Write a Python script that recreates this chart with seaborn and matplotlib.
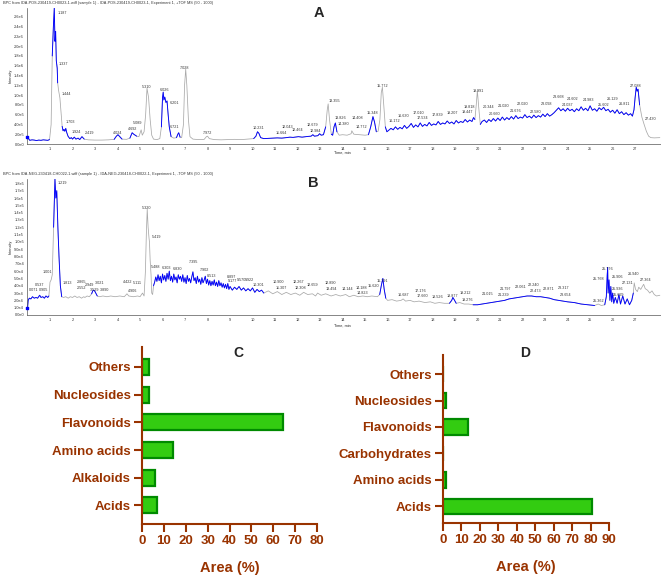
import pandas as pd
import matplotlib
matplotlib.use("Agg")
import matplotlib.pyplot as plt
import seaborn as sns

sns.set_style("white")
plt.rcParams["font.family"] = ["Liberation Sans", "DejaVu Sans"]

# ---------------- chromatogram A (+TOF MS), intensity in units of 1e5
a_title = ("BPC from IDA-POS-230419-CH0023-1.wiff (sample 1) - IDA-POS-230419-CH0023-1, "
           "Experiment 1, +TOF MS (50 - 1000)")
a_time = [0.00, 0.10, 0.20, 0.30, 0.40, 0.50, 0.60, 0.70, 0.80, 0.90, 0.98, 1.05, 1.10, 1.15, 1.19,
          1.22, 1.25, 1.28, 1.32, 1.34, 1.38, 1.44, 1.50, 1.54, 1.58, 1.62, 1.66, 1.70, 1.74, 1.80,
          1.88, 1.95, 2.00, 2.08, 2.15, 2.25, 2.32, 2.42, 2.52, 2.70, 3.00, 3.30, 3.60, 3.85, 3.95,
          4.02, 4.10, 4.20, 4.40, 4.55, 4.65, 4.72, 4.85, 4.95, 5.05, 5.10, 5.18, 5.25, 5.31, 5.38,
          5.45, 5.52, 5.60, 5.75, 5.88, 5.95, 6.00, 6.03, 6.06, 6.10, 6.15, 6.20, 6.25, 6.30, 6.38,
          6.50, 6.62, 6.68, 6.72, 6.78, 6.85, 6.93, 6.98, 7.03, 7.08, 7.15, 7.22, 7.35, 7.60, 7.85,
          7.95, 8.00, 8.08, 8.30, 8.60, 8.90, 9.20, 9.50, 9.80, 10.05, 10.15, 10.22, 10.28, 10.36,
          10.50, 10.70, 10.90, 11.10, 11.30, 11.50, 11.66, 11.80, 12.04, 12.20, 12.46, 12.60, 12.68,
          12.75, 12.90, 12.98, 13.05, 13.15, 13.25, 13.32, 13.36, 13.42, 13.50, 13.56, 13.62, 13.68,
          13.75, 13.85, 14.00, 14.20, 14.38, 14.41, 14.50, 14.77, 15.00, 15.15, 15.25, 15.35, 15.42,
          15.50, 15.58, 15.66, 15.72, 15.77, 15.83, 15.90, 15.97, 16.05, 16.15, 16.25, 16.35, 16.45,
          16.55, 16.65, 16.75, 16.85, 16.95, 17.05, 17.15, 17.25, 17.35, 17.45, 17.55, 17.65, 17.75,
          17.85, 17.95, 18.05, 18.15, 18.25, 18.35, 18.45, 18.55, 18.65, 18.75, 18.85, 18.95, 19.05,
          19.15, 19.25, 19.35, 19.45, 19.55, 19.65, 19.75, 19.82, 19.88, 19.94, 19.99, 20.05, 20.12,
          20.20, 20.30, 20.40, 20.50, 20.60, 20.70, 20.80, 20.90, 21.00, 21.10, 21.20, 21.30, 21.40,
          21.50, 21.60, 21.70, 21.80, 21.90, 22.00, 22.10, 22.20, 22.30, 22.40, 22.50, 22.60, 22.70,
          22.80, 22.90, 23.00, 23.10, 23.20, 23.30, 23.40, 23.50, 23.60, 23.70, 23.80, 23.90, 24.00,
          24.10, 24.20, 24.30, 24.40, 24.50, 24.60, 24.70, 24.80, 24.90, 25.00, 25.10, 25.20, 25.30,
          25.40, 25.50, 25.60, 25.70, 25.80, 25.90, 26.00, 26.10, 26.20, 26.30, 26.40, 26.50, 26.60,
          26.70, 26.80, 26.88, 26.95, 27.00, 27.05, 27.09, 27.13, 27.20, 27.30, 27.40, 27.50, 27.60,
          27.70, 27.85, 28.10]
a_int = [1.4, 0.75, 0.85, 0.8, 0.7, 0.8, 0.75, 0.85, 0.8, 0.75, 0.9, 4.0, 18.0, 24.0, 27.8,
         21.0, 23.0, 17.0, 15.5, 12.5, 11.0, 9.4, 6.0, 3.6, 2.7, 3.0, 2.6, 3.2, 2.4, 1.6,
         1.1, 1.3, 1.0, 1.4, 1.0, 1.2, 0.9, 1.5, 1.0, 0.85, 0.8, 0.8, 0.85, 0.95, 1.6,
         1.9, 1.5, 1.0, 0.95, 1.2, 2.3, 2.0, 1.6, 1.5, 2.9, 1.8, 2.5, 6.0, 11.4, 9.5,
         5.0, 1.8, 1.0, 0.9, 1.1, 3.5, 9.5, 10.6, 9.0, 9.6, 8.5, 8.8, 6.0, 3.5, 1.5,
         1.2, 1.3, 2.0, 2.3, 1.4, 1.3, 4.0, 12.0, 15.3, 12.0, 5.0, 1.5, 1.0, 0.9, 0.95,
         1.5, 1.6, 1.1, 0.9, 0.85, 0.9, 0.95, 0.9, 1.0, 1.1, 1.6, 2.5, 2.2, 1.3,
         1.1, 1.15, 1.2, 1.25, 1.2, 1.3, 1.4, 1.35, 1.5, 1.4, 1.55, 1.6, 1.9,
         1.6, 1.7, 2.1, 1.8, 1.9, 3.5, 7.0, 8.2, 5.0, 2.0, 1.8, 3.5, 4.3,
         2.5, 1.8, 1.9, 1.8, 2.1, 2.7, 2.0, 1.9, 1.8, 1.9, 3.5, 5.6, 4.5,
         2.5, 2.6, 5.0, 10.5, 11.6, 8.0, 3.5, 2.5, 2.8, 3.2, 2.9, 3.5, 3.0,
         3.4, 3.1, 3.8, 3.2, 3.6, 4.2, 3.4, 3.9, 3.5, 4.3, 3.6, 4.0, 3.7,
         4.4, 3.8, 4.1, 3.9, 4.6, 4.0, 4.3, 4.1, 4.7, 4.2, 4.5, 4.1, 4.8,
         4.3, 4.6, 4.4, 5.0, 4.5, 4.9, 4.6, 5.4, 5.0, 8.0, 10.9, 7.5, 4.0,
         4.6, 4.9, 4.4, 5.0, 4.6, 5.2, 4.7, 5.3, 4.8, 5.5, 4.9, 5.4, 5.0,
         5.6, 5.1, 5.8, 5.2, 5.5, 5.3, 6.0, 5.4, 5.7, 5.3, 5.9, 5.4, 5.8,
         5.5, 6.1, 5.6, 6.2, 5.7, 6.0, 6.4, 6.9, 7.4, 6.8, 7.2, 6.7, 7.3,
         6.8, 7.1, 6.6, 7.2, 6.8, 7.6, 6.9, 7.3, 6.8, 7.8, 6.9, 7.2, 6.7,
         7.4, 7.0, 7.5, 6.8, 7.1, 6.5, 6.9, 6.3, 7.0, 6.2, 6.6, 6.0, 6.4,
         5.9, 6.2, 5.7, 7.0, 9.5, 11.6, 10.8, 11.2, 8.0, 5.5, 4.0, 2.6, 1.6,
         1.3, 1.25, 1.3]
a_blue = [(0.0, 0.98), (1.10, 1.34), (1.54, 2.52), (3.85, 4.20), (4.55, 4.85), (5.95, 6.38),
          (6.62, 6.78), (10.05, 13.25), (13.50, 13.75), (15.15, 15.50), (15.90, 19.88),
          (20.12, 27.25)]
a_lab_txt = ["1.187", "1.337", "1.444", "1.703", "1.924", "2.419", "4.024", "4.692", "5.089",
             "5.310", "6.026", "6.201", "6.721", "7.028", "7.972", "10.231", "11.664", "12.043",
             "12.464", "12.679", "12.984", "13.355", "13.826", "14.380", "14.408", "14.772",
             "15.348", "15.772", "16.172", "16.630", "17.010", "17.534", "17.839", "19.207",
             "19.447", "19.818", "19.991", "20.344", "20.660", "21.020", "21.676", "22.020",
             "22.580", "23.098", "23.668", "24.037", "24.602", "24.983", "25.602", "26.129",
             "26.811", "27.088", "27.430"]
a_lab_t = [1.36, 1.40, 1.53, 1.71, 1.98, 2.56, 3.80, 4.47, 4.69, 5.09, 5.89, 6.33, 6.33, 6.78,
           7.80, 10.02, 11.04, 11.31, 11.76, 12.42, 12.56, 13.36, 13.67, 13.80, 14.42, 14.56,
           15.09, 15.53, 16.07, 16.47, 17.13, 17.31, 17.98, 18.64, 19.27, 19.36, 19.76, 20.24,
           20.51, 20.91, 21.44, 21.76, 22.33, 22.82, 23.36, 23.76, 23.98, 24.69, 25.36, 25.76,
           26.29, 26.78, 27.44]
a_lab_y = [26.7, 16.3, 10.2, 4.5, 2.4, 2.2, 2.2, 3.1, 4.3, 11.6, 11.0, 8.4, 3.5, 15.5, 2.2,
           3.3, 2.2, 3.5, 2.9, 3.9, 2.7, 8.8, 5.3, 4.1, 5.3, 3.5, 6.3, 11.8, 4.7, 5.7, 6.3,
           5.3, 5.9, 6.3, 6.5, 7.6, 10.8, 7.6, 6.1, 7.8, 6.7, 8.2, 6.5, 8.2, 9.6, 8.0, 9.2,
           9.0, 8.0, 9.2, 8.2, 11.8, 5.1]
a_ytick_labels = ["0.0e0", "2.0e5", "4.0e5", "6.0e5", "8.0e5", "1.0e6", "1.2e6", "1.4e6",
                  "1.6e6", "1.8e6", "2.0e6", "2.2e6", "2.4e6", "2.6e6"]

# ---------------- chromatogram B (-TOF MS), intensity in units of 1e4
b_title = ("BPC from IDA-NEG-230418-CH0022-1.wiff (sample 1) - IDA-NEG-230418-CH0022-1, "
           "Experiment 1, -TOF MS (50 - 1000)")
b_time = [0.00, 0.03, 0.08, 0.15, 0.22, 0.30, 0.38, 0.45, 0.54, 0.60, 0.68, 0.75, 0.82, 0.90,
          0.95, 1.00, 1.05, 1.10, 1.16, 1.22, 1.26, 1.30, 1.35, 1.40, 1.46, 1.52, 1.60, 1.70,
          1.81, 1.90, 2.00, 2.10, 2.20, 2.30, 2.40, 2.50, 2.55, 2.65, 2.75, 2.85, 2.90, 2.95,
          3.00, 3.05, 3.10, 3.20, 3.35, 3.53, 3.70, 3.89, 4.10, 4.30, 4.42, 4.50, 4.70, 4.90,
          5.00, 5.11, 5.18, 5.24, 5.28, 5.32, 5.36, 5.40, 5.42, 5.45, 5.49, 5.52, 5.56, 5.60,
          5.65, 5.70, 5.75, 5.80, 5.85, 5.90, 5.95, 6.00, 6.05, 6.10, 6.15, 6.20, 6.25, 6.30,
          6.35, 6.40, 6.45, 6.50, 6.55, 6.60, 6.65, 6.70, 6.75, 6.80, 6.85, 6.90, 6.95, 7.00,
          7.05, 7.10, 7.15, 7.20, 7.25, 7.30, 7.35, 7.40, 7.45, 7.50, 7.55, 7.60, 7.65, 7.70,
          7.75, 7.80, 7.85, 7.90, 7.95, 8.00, 8.05, 8.10, 8.15, 8.20, 8.25, 8.30, 8.35, 8.40,
          8.45, 8.50, 8.55, 8.60, 8.65, 8.70, 8.75, 8.80, 8.85, 8.90, 8.95, 9.00, 9.10, 9.20,
          9.30, 9.40, 9.50, 9.60, 9.70, 9.80, 9.90, 10.00, 10.10, 10.20, 10.30, 10.40, 10.50,
          10.70, 10.90, 11.10, 11.30, 11.50, 11.70, 11.90, 12.10, 12.27, 12.45, 12.66, 12.80,
          12.89, 13.05, 13.25, 13.49, 13.70, 13.90, 14.14, 14.30, 14.50, 14.70, 14.90, 15.10,
          15.30, 15.55, 15.65, 15.72, 15.79, 15.85, 15.92, 16.00, 16.20, 16.40, 16.60, 16.69,
          16.80, 17.00, 17.18, 17.40, 17.66, 17.90, 18.10, 18.30, 18.53, 18.75, 18.85, 18.90,
          18.96, 19.05, 19.21, 19.40, 19.60, 19.80, 20.00, 20.20, 20.40, 20.60, 20.80, 21.00,
          21.20, 21.40, 21.60, 21.80, 22.00, 22.20, 22.40, 22.60, 22.80, 23.00, 23.20, 23.40,
          23.60, 23.80, 24.00, 24.30, 24.60, 24.90, 25.20, 25.36, 25.50, 25.65, 25.72, 25.76,
          25.78, 25.80, 25.84, 25.88, 25.92, 25.96, 26.00, 26.05, 26.12, 26.20, 26.28, 26.35,
          26.45, 26.55, 26.65, 26.75, 26.85, 26.92, 26.96, 27.02, 27.10, 27.16, 27.25, 27.32,
          27.38, 27.45, 27.55, 27.65, 27.75, 27.85, 27.95, 28.10]
b_int = [0.9, 2.0, 2.3, 2.2, 2.5, 2.3, 2.4, 2.3, 2.7, 2.4, 2.5, 2.3, 2.6, 2.4,
         2.6, 4.5, 4.8, 5.5, 12.0, 18.6, 16.0, 17.0, 12.0, 8.0, 4.0, 2.5, 2.4, 2.5,
         2.3, 2.5, 2.4, 2.6, 2.4, 2.5, 2.3, 2.5, 2.4, 2.6, 2.5, 2.9, 3.3, 3.4,
         3.2, 2.9, 2.6, 2.5, 2.6, 2.5, 2.6, 2.5, 2.6, 2.5, 2.9, 2.6, 2.5, 2.6,
         2.5, 3.0, 2.6, 6.0, 11.0, 14.5, 12.0, 10.5, 10.0, 7.5, 5.5, 3.0, 2.8, 4.0,
         4.5, 5.2, 4.6, 5.5, 4.7, 5.3, 4.4, 5.6, 4.8, 5.4, 4.6, 5.7, 4.9, 6.0,
         4.7, 5.3, 4.5, 5.6, 4.8, 5.2, 4.4, 5.5, 4.9, 5.3, 4.6, 5.5, 4.5, 5.1,
         4.3, 5.4, 4.6, 5.0, 4.4, 5.2, 5.9, 4.7, 5.1, 4.3, 5.3, 4.5, 4.9, 4.2,
         5.1, 4.4, 4.8, 5.3, 4.3, 4.9, 4.1, 4.7, 4.0, 4.6, 4.1, 4.8, 4.0, 4.5,
         3.9, 4.7, 4.0, 4.4, 3.8, 4.3, 3.7, 4.2, 3.6, 4.3, 3.5, 3.9, 3.4, 3.8,
         3.5, 3.9, 3.4, 3.7, 3.3, 3.6, 3.3, 3.7, 3.1, 3.5, 3.2, 3.4, 3.0,
         3.3, 2.9, 3.2, 2.8, 3.1, 2.8, 3.0, 2.7, 3.1, 2.8, 2.9, 2.6,
         3.0, 2.7, 2.9, 2.6, 2.8, 2.6, 2.8, 2.5, 2.7, 2.5, 2.6, 2.5,
         2.6, 2.5, 2.8, 4.0, 5.0, 3.5, 2.3, 2.0, 2.1, 1.9, 2.0, 2.2,
         1.9, 2.0, 1.8, 1.9, 1.7, 1.8, 1.6, 1.7, 1.6, 1.6, 2.0, 2.4,
         2.1, 1.6, 1.7, 1.5, 1.5, 1.4, 1.4, 1.5, 1.6, 1.7, 1.8, 1.9,
         2.0, 2.2, 2.3, 2.4, 2.5, 2.6, 2.6, 2.5, 2.5, 2.4, 2.3, 2.1,
         2.0, 1.9, 1.8, 1.7, 1.5, 1.4, 1.3, 1.5, 1.3, 1.4, 2.5, 5.5,
         6.5, 3.0, 4.8, 2.0, 3.9, 1.8, 3.0, 1.6, 2.4, 1.6, 2.8, 1.5,
         2.6, 1.5, 2.2, 1.4, 2.0, 3.0, 4.4, 3.5, 3.2, 3.8, 3.5, 3.9,
         4.2, 3.6, 3.4, 3.0, 3.3, 2.8, 2.6, 2.7]
b_blue = [(0.0, 0.95), (1.16, 1.52), (2.85, 3.10), (5.60, 10.50), (15.65, 15.92),
          (18.75, 19.05), (19.80, 25.20), (25.65, 26.92)]
b_lab_txt = ["1.219", "1.001", "0.537", "0.071", "0.905", "1.813", "2.865", "2.552", "2.949",
             "3.021", "3.529", "3.890", "4.422", "4.906", "5.111", "5.320", "5.419", "5.488",
             "6.303", "6.830", "7.395", "7.902", "8.513", "8.897", "9.177", "9.570", "9.922",
             "10.301", "10.900", "11.307", "12.267", "12.308", "12.659", "12.890", "13.494",
             "14.144", "14.188", "14.823", "15.620", "15.791", "16.687", "17.176", "17.660",
             "18.526", "18.877", "19.212", "19.276", "21.015", "21.239", "21.797", "22.061",
             "22.240", "22.473", "22.871", "23.317", "23.654", "25.362", "25.768", "25.776",
             "25.906", "25.936", "25.699", "26.940", "27.131", "27.364"]
b_lab_t = [1.36, 0.69, 0.33, 0.07, 0.51, 1.58, 2.20, 2.20, 2.56, 3.00, 2.78, 3.22, 4.24, 4.47,
           4.69, 5.09, 5.53, 5.48, 5.95, 6.45, 7.18, 7.67, 7.98, 8.87, 8.91, 9.31, 9.67, 10.02,
           10.91, 11.04, 11.80, 11.89, 12.42, 13.22, 13.27, 13.98, 14.56, 14.64, 15.13, 15.53,
           16.47, 17.22, 17.31, 17.98, 18.64, 19.22, 19.31, 20.20, 20.91, 21.00, 21.67, 22.24,
           22.33, 22.91, 23.58, 23.67, 25.13, 25.13, 25.53, 25.98, 25.98, 26.02, 26.69, 26.42,
           27.22]
b_lab_y = [18.1, 5.9, 4.1, 3.4, 3.4, 4.4, 4.5, 3.7, 4.1, 4.4, 3.4, 3.4, 4.5, 3.3, 4.4, 14.6,
           10.6, 6.5, 6.4, 6.3, 7.2, 6.1, 5.3, 5.2, 4.6, 4.8, 4.8, 4.1, 4.5, 3.7, 4.5, 3.7, 4.1,
           4.4, 3.5, 3.5, 3.7, 3.0, 3.9, 4.6, 2.7, 3.3, 2.6, 2.4, 2.6, 3.0, 2.0, 2.9, 2.7, 3.5,
           3.8, 4.1, 3.3, 3.5, 3.7, 2.7, 1.9, 4.9, 6.3, 5.2, 3.5, 2.7, 5.6, 4.4, 4.8]
b_ytick_labels = ["0.0e0", "1.0e4", "2.0e4", "3.0e4", "4.0e4", "5.0e4", "6.0e4", "7.0e4",
                  "8.0e4", "9.0e4", "1.0e5", "1.1e5", "1.2e5", "1.3e5", "1.4e5", "1.5e5",
                  "1.6e5", "1.7e5", "1.8e5"]

# ---------------- bar charts (area %)
c_classes = ["Others", "Nucleosides", "Flavonoids", "Amino acids", "Alkaloids", "Acids"]
c_area = [3.2, 3.2, 64.6, 14.2, 5.8, 6.9]
d_classes = ["Others", "Nucleosides", "Flavonoids", "Carbohydrates", "Amino acids", "Acids"]
d_area = [0.0, 1.8, 13.7, 0.0, 1.6, 80.8]

BLUE = "#0000ff"
GREY = "#a8a8a8"
BROWN = "#993300"
FILL = "#33cc11"
EDGE = "#008a00"

W, H = 661, 578
fig = plt.figure(figsize=(W / 100, H / 100), dpi=100)


def rect(x0, y0, x1, y1):
    # pixel box (top-left origin) -> figure fraction
    return [x0 / W, 1 - y1 / H, (x1 - x0) / W, (y1 - y0) / H]


def chromatogram(ax, t, y, blue, ymax, ytl, labs, lab_t, lab_y):
    df = pd.DataFrame({"t": t, "y": y})
    sns.lineplot(data=df, x="t", y="y", ax=ax, color=GREY, lw=0.55,
                 estimator=None, sort=False)
    for t0, t1 in blue:
        seg = df[(df.t >= t0) & (df.t <= t1)]
        sns.lineplot(data=seg, x="t", y="y", ax=ax, color=BLUE, lw=0.65,
                     estimator=None, sort=False)
    ax.scatter(df.t.iloc[:1], df.y.iloc[:1], s=4, marker="s", color=BLUE,
               zorder=5, clip_on=False)
    for s, lt, ly in zip(labs, lab_t, lab_y):
        ax.text(lt, ly, s, fontsize=2.7, ha="left", va="center", color="#333333")
    ax.set_xlim(0, 28.15)
    ax.set_ylim(0, ymax)
    ax.set_xticks(range(1, 28))
    ax.set_xticklabels([str(i) for i in range(1, 28)])
    step = 2 if len(ytl) == 14 else 1
    ax.set_yticks([i * step for i in range(len(ytl))])
    ax.set_yticklabels(ytl)
    ax.tick_params(labelsize=2.8, length=1.5, width=0.4, pad=1, colors="#333333")
    for side in ["top", "right"]:
        ax.spines[side].set_visible(False)
    for side in ["left", "bottom"]:
        ax.spines[side].set_linewidth(0.5)
        ax.spines[side].set_color("#555555")
    ax.set_xlabel("")
    ax.set_ylabel("Intensity", fontsize=2.8)
    ax.yaxis.set_label_coords(-0.024, 0.5)
    ax.patch.set_alpha(0)


ax_a = fig.add_axes(rect(27.5, 8, 661, 144))
chromatogram(ax_a, a_time, a_int, a_blue, 27.8, a_ytick_labels, a_lab_txt, a_lab_t, a_lab_y)
fig.text(3 / W, 1 - 3 / H, a_title, fontsize=2.8, ha="left", va="center", color="#333333")
fig.text(334 / W, 1 - 153 / H, "Time, min", fontsize=2.8, ha="left", va="center")
fig.text(318.5 / W, 1 - 13 / H, "A", fontsize=10.5, fontweight="bold", ha="center", va="center")

ax_b = fig.add_axes(rect(27.5, 179, 661, 315))
chromatogram(ax_b, b_time, b_int, b_blue, 18.6, b_ytick_labels, b_lab_txt, b_lab_t, b_lab_y)
fig.text(3 / W, 1 - 174 / H, b_title, fontsize=2.8, ha="left", va="center", color="#333333")
fig.text(334 / W, 1 - 326 / H, "Time, min", fontsize=2.8, ha="left", va="center")
fig.text(313 / W, 1 - 183 / H, "B", fontsize=10.5, fontweight="bold", ha="center", va="center")


def bars(ax, classes, area, xmax, ylim):
    sns.barplot(x=area, y=classes, orient="h", ax=ax, color=FILL, edgecolor=EDGE,
                linewidth=1.6, width=0.58, saturation=1)
    ax.set_xlim(0, xmax)
    ax.set_ylim(*ylim)
    ax.set_xticks(range(0, xmax + 1, 10))
    for side in ["top", "right"]:
        ax.spines[side].set_visible(False)
    for side in ["left", "bottom"]:
        ax.spines[side].set_linewidth(1.5)
        ax.spines[side].set_color(BROWN)
    ax.tick_params(axis="both", direction="out", length=6, width=1.5, color=BROWN,
                   labelcolor=BROWN, labelsize=9.5, pad=2, left=True, bottom=True)
    for lab in ax.get_xticklabels() + ax.get_yticklabels():
        lab.set_fontweight("bold")
    ax.set_ylabel("")
    ax.set_xlabel("Area (%)", fontsize=10.5, fontweight="bold", color=BROWN, labelpad=10)
    ax.patch.set_alpha(0)


ax_c = fig.add_axes(rect(142, 347, 317, 524))
bars(ax_c, c_classes, c_area, 80, (5.67, -0.72))
fig.text(238 / W, 1 - 353 / H, "C", fontsize=10, fontweight="bold", ha="center", va="center")

ax_d = fig.add_axes(rect(443, 355, 609, 523))
bars(ax_d, d_classes, d_area, 90, (5.63, -0.72))
fig.text(525.5 / W, 1 - 353 / H, "D", fontsize=10, fontweight="bold", ha="center", va="center")

fig.savefig("out.png", dpi=100)
